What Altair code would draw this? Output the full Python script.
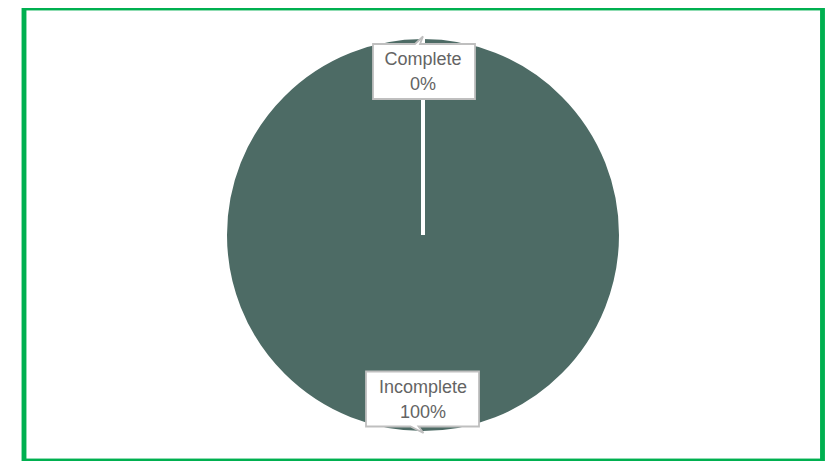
import altair as alt
import pandas as pd

# ---- data ----
categories = ["Complete", "Incomplete"]
values = [0, 100]
pct_labels = ["0%", "100%"]
slice_order = [0, 1]

df = pd.DataFrame({
    "category": categories,
    "value": values,
    "pct": pct_labels,
    "ord": slice_order,
})
# draw the empty "Complete" slice last so its white edge stays visible
df = df.iloc[::-1].reset_index(drop=True)

# ---- layout constants (chart pixel space; page = chart + 8) ----
W, H = 820, 453
CX, CY = 415, 227
R = 198
LABEL_R = 164
PIE_COLOR = "#4D6B65"
TEXT_COLOR = "#646464"
BOX_STROKE = "#BFBFBF"

# callout outlines in local pixel units (symbol size 4 -> scale 1)
top_callout = "M -51 -27.5 L -9 -27.5 L -1 -35 L -4 -27.5 L 51 -27.5 L 51 27.5 L -51 27.5 Z"
bottom_callout = "M -56.5 -27.5 L 56.5 -27.5 L 56.5 27.5 L -4 27.5 L 1 34 L -12 27.5 L -56.5 27.5 Z"

base = alt.Chart(df)

border = base.mark_rect(
    fillOpacity=0, stroke="#00B050", strokeWidth=4.5
).encode(
    x=alt.value(16), x2=alt.value(814.5), y=alt.value(0), y2=alt.value(453)
)

pie = base.mark_arc(outerRadius=R, stroke="white", strokeWidth=4).encode(
    theta=alt.Theta("value:Q", stack=True),
    color=alt.Color(
        "category:N",
        scale=alt.Scale(domain=categories, range=[PIE_COLOR, PIE_COLOR]),
        legend=None,
    ),
    order=alt.Order("ord:Q"),
    x=alt.value(CX),
    y=alt.value(CY),
)

box_top = base.transform_filter("datum.category == 'Complete'").mark_point(
    shape=top_callout, size=4, filled=True, fill="white", opacity=1,
    stroke=BOX_STROKE, strokeWidth=1.8,
).encode(x=alt.value(CX + 1), y=alt.value(CY - LABEL_R + 0.5))

box_bottom = base.transform_filter("datum.category == 'Incomplete'").mark_point(
    shape=bottom_callout, size=4, filled=True, fill="white", opacity=1,
    stroke=BOX_STROKE, strokeWidth=1.8,
).encode(x=alt.value(CX - 0.5), y=alt.value(CY + LABEL_R))

labels = base.transform_calculate(
    label="datum.category + '\\n' + datum.pct"
).mark_text(
    lineBreak="\n", fontSize=18, lineHeight=25, font="Liberation Sans",
    color=TEXT_COLOR, radius=LABEL_R, align="center", baseline="middle",
    dy=-11.5,
).encode(
    theta=alt.Theta("value:Q", stack=True),
    order=alt.Order("ord:Q"),
    text="label:N",
    x=alt.value(CX),
    y=alt.value(CY),
)

chart = alt.layer(border, pie, box_top, box_bottom, labels).properties(
    width=W, height=H, padding=0,
    autosize=alt.AutoSizeParams(type="none"),
).configure_view(stroke=None)

chart.save("out.html", embed_options={"renderer": "svg", "actions": False})
